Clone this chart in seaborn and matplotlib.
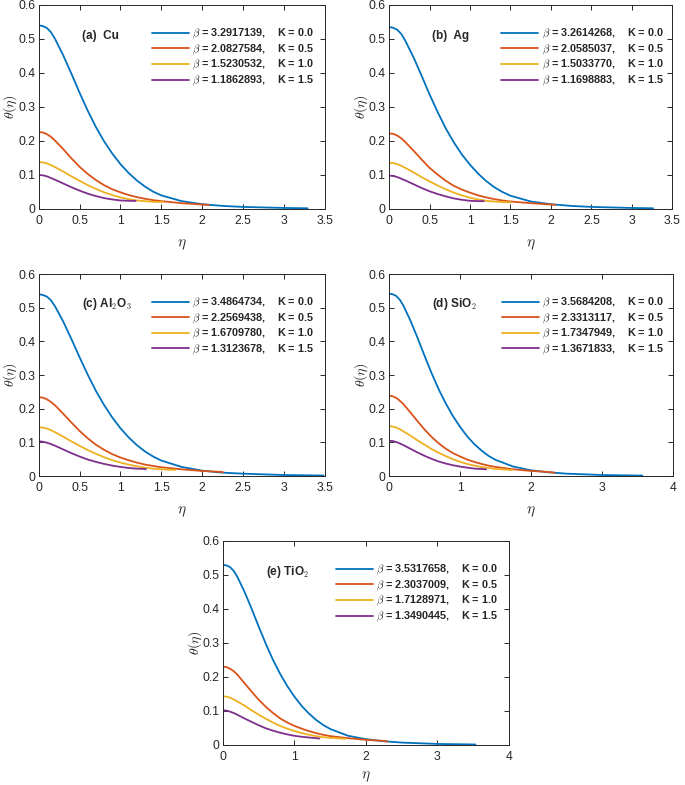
import numpy as np
import pandas as pd
import matplotlib
matplotlib.use("Agg")
import matplotlib.pyplot as plt
import seaborn as sns

eta_grid = [0, 0.05, 0.1, 0.15, 0.2, 0.3, 0.4, 0.5, 0.6, 0.7, 0.8, 0.9, 1.0,
            1.1, 1.2, 1.3, 1.4, 1.5, 1.75, 2.0, 2.25, 2.5, 3.0, 3.5]
K_vals = [0.0, 0.5, 1.0, 1.5]

# (a) Cu
cu_beta = [3.2917139, 2.0827584, 1.5230532, 1.1862893]
cu_theta = [
    [.540, .538, .532, .520, .500, .452, .398, .342, .289, .241, .199, .163, .132, .106, .084, .066, .051, .040, .023, .014, .009, .006, .003, .002],
    [.226, .225, .220, .212, .201, .176, .149, .124, .103, .085, .070, .058, .049, .041, .035, .030, .026, .023, .017, .013, .012],
    [.138, .137, .134, .129, .123, .110, .096, .083, .070, .059, .049, .041, .034, .029, .025, .023, .021, .0205, .0205],
    [.100, .099, .096, .091, .086, .075, .064, .054, .045, .038, .032, .028, .025, .024, .0235],
]
# (b) Ag
ag_beta = [3.2614268, 2.0585037, 1.5033770, 1.1698883]
ag_theta = [
    [.535, .533, .527, .515, .495, .447, .393, .337, .285, .237, .196, .160, .130, .104, .082, .064, .050, .039, .022, .014, .009, .006, .003, .002],
    [.222, .221, .216, .208, .197, .172, .146, .121, .101, .083, .068, .057, .048, .040, .034, .029, .025, .022, .017, .013, .012],
    [.136, .135, .132, .127, .121, .108, .094, .081, .069, .058, .048, .040, .033, .028, .024, .022, .020, .020, .020],
    [.098, .097, .094, .089, .084, .073, .062, .052, .044, .037, .031, .027, .024, .023, .023],
]
# (c) Al2O3
al_beta = [3.4864734, 2.2569438, 1.6709780, 1.3123678]
al_theta = [
    [.540, .538, .533, .522, .504, .459, .407, .353, .301, .253, .211, .174, .142, .115, .092, .073, .058, .046, .027, .016, .010, .007, .003, .0015],
    [.234, .233, .228, .220, .210, .185, .159, .134, .112, .093, .078, .065, .055, .047, .040, .034, .030, .026, .020, .015, .012, .011],
    [.145, .144, .141, .136, .130, .117, .103, .090, .077, .066, .056, .047, .040, .034, .029, .025, .022, .020, .018],
    [.103, .102, .099, .095, .090, .079, .068, .058, .049, .042, .036, .031, .027, .024, .022, .021, .0205],
]
# (d) SiO2
si_beta = [3.5684208, 2.3313117, 1.7347949, 1.3671833]
si_theta = [
    [.542, .540, .535, .524, .507, .462, .411, .357, .305, .257, .215, .178, .146, .118, .095, .076, .060, .048, .028, .017, .011, .007, .003, .0015, .0013],
    [.238, .237, .232, .224, .214, .189, .163, .138, .116, .097, .081, .068, .058, .049, .042, .036, .031, .027, .020, .015, .012, .010],
    [.148, .147, .144, .139, .133, .120, .106, .093, .080, .069, .059, .050, .042, .036, .031, .027, .024, .021, .018],
    [.105, .104, .101, .097, .092, .081, .070, .060, .051, .043, .037, .032, .028, .025, .022, .021, .020],
]
# (e) TiO2
ti_beta = [3.5317658, 2.3037009, 1.7128971, 1.3490445]
ti_theta = [
    [.530, .528, .523, .512, .495, .451, .401, .348, .297, .250, .209, .173, .142, .115, .093, .074, .059, .047, .027, .017, .011, .007, .003, .0015, .0013],
    [.230, .229, .224, .217, .207, .182, .157, .133, .112, .094, .078, .066, .056, .048, .041, .035, .030, .026, .020, .015, .012, .010],
    [.143, .142, .139, .134, .128, .116, .102, .089, .077, .066, .056, .048, .041, .035, .030, .026, .023, .021, .018],
    [.102, .101, .098, .094, .089, .078, .068, .058, .049, .042, .036, .031, .027, .024, .022, .020, .019],
]

labels = [r"(a)  Cu", r"(b)  Ag", r"(c) Al$_\mathbf{2}$O$_\mathbf{3}$",
          r"(d) SiO$_\mathbf{2}$", r"(e) TiO$_\mathbf{2}$"]
colors = ["#0072BD", "#D95319", "#EDB120", "#7E2F8E"]

sns.set_theme(style="ticks")
plt.rcParams['font.family'] = ['Liberation Sans', 'DejaVu Sans']
plt.rcParams['mathtext.fontset'] = 'cm'

fig = plt.figure(figsize=(6.85, 7.85), dpi=100)
positions = [
    [0.0565, 0.7338, 0.4175, 0.2599],
    [0.568, 0.7338, 0.4135, 0.2599],
    [0.0565, 0.3936, 0.4175, 0.2573],
    [0.568, 0.3936, 0.4145, 0.2573],
    [0.3255, 0.051, 0.4175, 0.2599],
]
xmaxes = [3.5, 3.5, 3.5, 4, 4]
panels = [(cu_beta, cu_theta), (ag_beta, ag_theta), (al_beta, al_theta),
          (si_beta, si_theta), (ti_beta, ti_theta)]

for i, (betas, thetas) in enumerate(panels):
    ax = fig.add_axes(positions[i])
    for j in range(4):
        eta = [e for e in eta_grid if e < betas[j]] + [betas[j]]
        df = pd.DataFrame({'eta': eta, 'theta': thetas[j]})
        lab = r"$\beta$ = %.7f,    K = %.1f" % (betas[j], K_vals[j])
        sns.lineplot(data=df, x='eta', y='theta', ax=ax, color=colors[j],
                     lw=1.3, sort=False, label=lab)
    ax.set_xlim(0, xmaxes[i])
    ax.set_ylim(0, 0.6)
    if xmaxes[i] == 4:
        ax.set_xticks([0, 1, 2, 3, 4])
    else:
        ax.set_xticks([0, 0.5, 1, 1.5, 2, 2.5, 3, 3.5])
        ax.set_xticklabels(['0', '0.5', '1', '1.5', '2', '2.5', '3', '3.5'])
    ax.set_yticks([0, 0.1, 0.2, 0.3, 0.4, 0.5, 0.6])
    ax.set_yticklabels(['0', '0.1', '0.2', '0.3', '0.4', '0.5', '0.6'])
    ax.tick_params(direction='in', top=True, right=True, length=3.5,
                   width=0.7, labelsize=8.8, colors='#262626', pad=2.5)
    ax.tick_params(axis='x', pad=4)
    for s in ax.spines.values():
        s.set_linewidth(0.7)
        s.set_color('#262626')
    ax.set_xlabel(r"$\eta$", fontsize=11, labelpad=5 if i == 4 else 8)
    ax.set_ylabel(r"$\theta(\eta)$", fontsize=10)
    ax.yaxis.set_label_coords(-0.068, 0.5)
    ax.text(0.15, 0.85, labels[i], transform=ax.transAxes, fontsize=8.5,
            fontweight='bold', ha='left', va='center')
    ax.legend(loc='upper left', bbox_to_anchor=(0.37, 0.93), frameon=False,
              prop={'weight': 'bold', 'size': 7.8}, handlelength=3.4,
              handletextpad=0.3, labelspacing=0.12, borderpad=0.2)

fig.savefig("out.png", dpi=100)
